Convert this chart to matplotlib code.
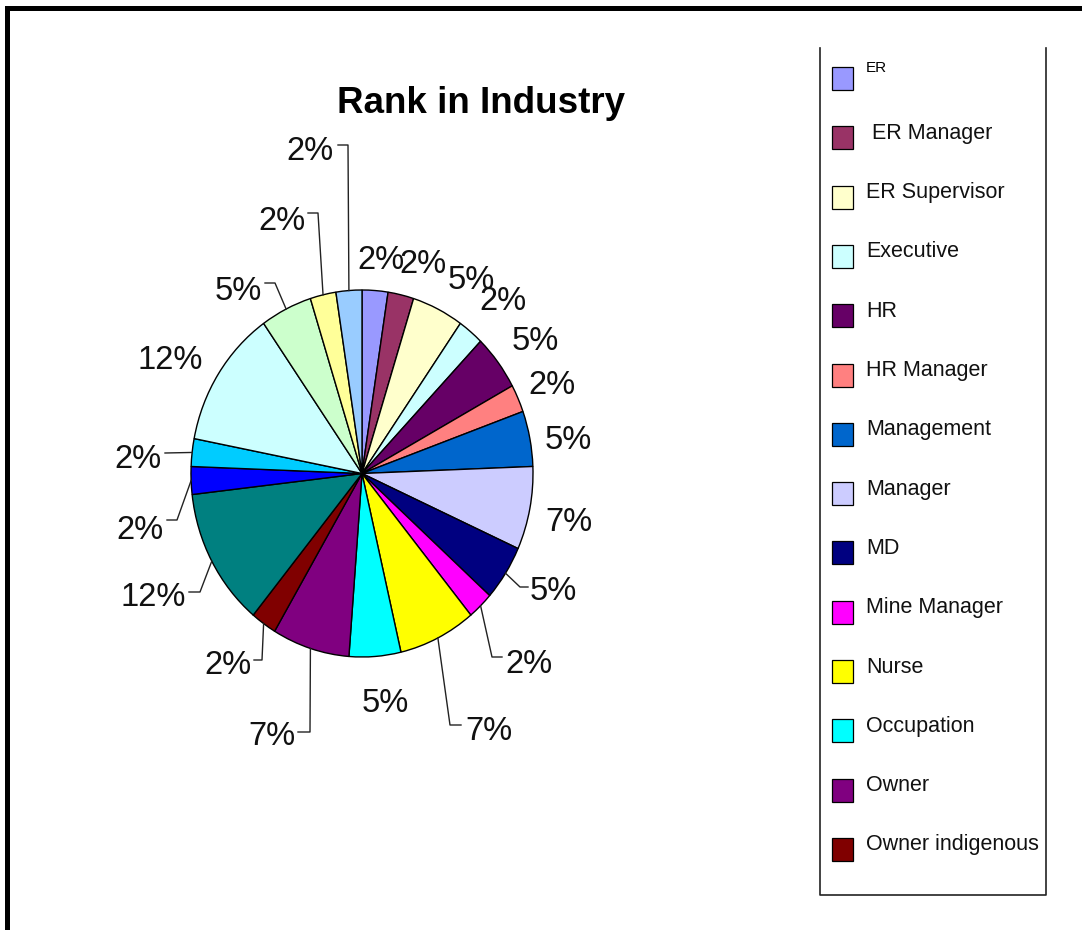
import numpy as np
import matplotlib
matplotlib.use("Agg")
import matplotlib.pyplot as plt
from matplotlib.patches import Rectangle

plt.rcParams['font.family'] = ['Liberation Sans', 'DejaVu Sans']

# respondents per rank (41 in total), clockwise from 12 o'clock
categories = ["ER", " ER Manager", "ER Supervisor", "Executive", "HR", "HR Manager",
              "Management", "Manager", "MD", "Mine Manager", "Nurse", "Occupation",
              "Owner", "Owner indigenous", "Partner", "President", "Principal",
              "Senior Manager", "Supervisor", "Team Leader", "VP"]
counts = [1, 1, 2, 1, 2, 1, 2, 3, 2, 1, 3, 2, 3, 1, 5, 1, 1, 5, 2, 1, 1]
colors = ["#9999FF", "#993366", "#FFFFCC", "#CCFFFF", "#660066", "#FF8080",
          "#0066CC", "#CCCCFF", "#000080", "#FF00FF", "#FFFF00", "#00FFFF",
          "#800080", "#800000", "#008080", "#0000FF", "#00CCFF", "#CCFFFF",
          "#CCFFCC", "#FFFF99", "#99CCFF"]
n_legend = 14  # only the first entries fit in the legend box

W, H = 1082, 930
CX, CY, RX, RY = 362, 473.5, 171, 183.5  # pie centre / radii in pixels
L = 2.0

# label anchors (pixels) and leader-line elbows
label_pos = [(381, 257, 'center'), (423, 261, 'center'), (471, 277, 'center'),
             (503, 298, 'center'), (535, 338, 'center'), (552, 382, 'center'),
             (568, 437, 'center'), (569, 519, 'center'), (530, 588, 'left'),
             (505, 661, 'left'), (465, 728, 'left'), (385, 700, 'center'),
             (295, 733, 'right'), (251, 662, 'right'), (186, 594, 'right'),
             (164, 527, 'right'), (162, 456, 'right'), (170, 357, 'center'),
             (262, 288, 'right'), (305, 218, 'right'), (334, 148, 'right')]
leaders = {8: [(520, 587), (528, 587)], 9: [(492, 657), (502, 657)],
           10: [(450, 725), (461, 725)], 12: [(310, 732), (298, 732)],
           13: [(262, 660), (254, 660)], 14: [(200, 592), (189, 592)],
           15: [(177, 520), (167, 520)], 16: [(165, 453)],
           18: [(275, 283), (265, 283)], 19: [(318, 213), (308, 213)],
           20: [(348, 145), (338, 145)]}


def px2data(px, py):
    return (px - CX) / RX, (CY - py) / RY


fig = plt.figure(figsize=(W / 100, H / 100), dpi=100)
fig.patch.set_facecolor("white")

# overlay in pixel units for frame, title and legend
lax = fig.add_axes([0, 0, 1, 1])
lax.set_xlim(0, W)
lax.set_ylim(H, 0)
lax.axis("off")

lax.plot([6.5, 6.5, W], [H, 8.5, 8.5], color="black", lw=3.6,
         solid_joinstyle="miter")
lax.text(481, 113, "Rank in Industry", fontsize=26.5, fontweight="bold",
         ha="center", va="baseline")

# legend box (top edge runs off the chart area)
lax.plot([820, 820, 1046, 1046], [48, 895, 895, 48], color="#222222", lw=1.2)
for i in range(n_legend):
    yc = 78.5 + i * 59.3
    lax.add_patch(Rectangle((832, yc - 11.5), 21, 23, facecolor=colors[i],
                            edgecolor="black", lw=0.9))
    if i == 0:
        lax.text(866, 72, categories[i], fontsize=11, va="baseline", ha="left")
    else:
        lax.text(866, yc + 1, categories[i], fontsize=15.5, va="baseline",
                 ha="left", color="#111111")

# pie, stretched slightly taller than wide
ax = fig.add_axes([(CX - L * RX) / W, (H - CY - L * RY) / H,
                   2 * L * RX / W, 2 * L * RY / H])
wedges, _ = ax.pie(counts, colors=colors, startangle=90, counterclock=False,
                   wedgeprops=dict(edgecolor="black", linewidth=1.0))
ax.set_aspect("auto")
ax.set_xlim(-L, L)
ax.set_ylim(-L, L)
ax.axis("off")

total = sum(counts)
for i, w in enumerate(wedges):
    pct = f"{round(100 * counts[i] / total)}%"
    px, py, ha = label_pos[i]
    tx, ty = px2data(px, py)
    ax.text(tx, ty, pct, fontsize=23.5, ha=ha, va="center_baseline",
            clip_on=False, color="#111111")
    if i in leaders:
        mid = np.deg2rad((w.theta1 + w.theta2) / 2)
        pts = [(np.cos(mid), np.sin(mid))] + [px2data(*p) for p in leaders[i]]
        xs, ys = zip(*pts)
        ax.plot(xs, ys, color="#222222", lw=1.0, clip_on=False)

fig.savefig("out.png", dpi=100, facecolor="white")
